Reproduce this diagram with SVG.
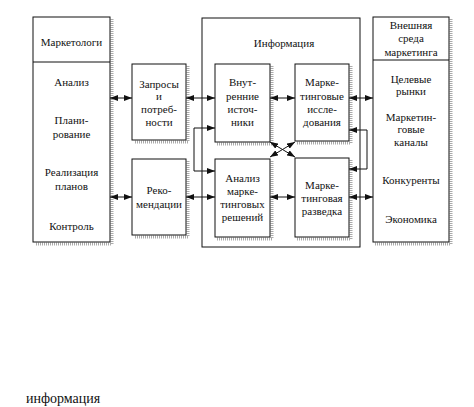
<svg xmlns="http://www.w3.org/2000/svg" width="474" height="407" viewBox="0 0 474 407">
<style>
.box{fill:#fff;stroke:#111;stroke-width:1}
.sh{fill:none;stroke:#aaa;stroke-width:3;stroke-dasharray:1 1}
.t{font-family:"Liberation Serif","Times New Roman",serif;font-size:11px;fill:#111;text-anchor:middle}
.c{fill:none;stroke:#111;stroke-width:1}
</style>
<defs>
<marker id="ah" markerWidth="8" markerHeight="6" refX="8" refY="3" orient="auto-start-reverse" markerUnits="userSpaceOnUse">
<path d="M0,0 L8,3 L0,6 z" fill="#111"/>
</marker>
</defs>
<rect width="474" height="407" fill="#fff"/>

<g id="info">
<rect class="box" x="202" y="18" width="158" height="229"/>
<text class="t" x="284" y="47">Информация</text>
</g>

<g id="marketers">
<path class="sh" d="M112,19 V244 H35"/>
<rect class="box" x="33" y="17" width="77" height="225"/>
<line class="c" x1="33" y1="62" x2="110" y2="62"/>
<text class="t" x="71.5" y="46">Маркетологи</text>
<text class="t" x="71.5" y="86">Анализ</text>
<text class="t" x="71.5" y="124">Плани-</text>
<text class="t" x="71.5" y="138">рование</text>
<text class="t" x="71.5" y="176">Реализация</text>
<text class="t" x="71.5" y="190">планов</text>
<text class="t" x="71.5" y="230">Контроль</text>
</g>

<g id="requests">
<path class="sh" d="M188,66 V142 H134"/>
<rect class="box" x="132" y="64" width="54" height="76"/>
<text class="t" x="159" y="88">Запросы</text>
<text class="t" x="159" y="100">и</text>
<text class="t" x="159" y="113">потреб-</text>
<text class="t" x="159" y="126">ности</text>
</g>

<g id="recommendations">
<path class="sh" d="M188,161 V237 H134"/>
<rect class="box" x="132" y="159" width="54" height="76"/>
<text class="t" x="159" y="194">Реко-</text>
<text class="t" x="159" y="208">мендации</text>
</g>

<g id="internal">
<path class="sh" d="M272,66 V144 H217"/>
<rect class="box" x="215" y="64" width="55" height="78"/>
<text class="t" x="242.5" y="86">Внут-</text>
<text class="t" x="242.5" y="100">ренние</text>
<text class="t" x="242.5" y="113">источ-</text>
<text class="t" x="242.5" y="126">ники</text>
</g>

<g id="research">
<path class="sh" d="M351,66 V143 H297"/>
<rect class="box" x="295" y="64" width="54" height="77"/>
<text class="t" x="322" y="86">Марке-</text>
<text class="t" x="322" y="100">тинговые</text>
<text class="t" x="322" y="113">иссле-</text>
<text class="t" x="322" y="126">дования</text>
</g>

<g id="analysis">
<path class="sh" d="M272,161 V239 H217"/>
<rect class="box" x="215" y="159" width="55" height="78"/>
<text class="t" x="242.5" y="182">Анализ</text>
<text class="t" x="242.5" y="195">марке-</text>
<text class="t" x="242.5" y="208">тинговых</text>
<text class="t" x="242.5" y="221">решений</text>
</g>

<g id="intelligence">
<path class="sh" d="M351,160 V239 H297"/>
<rect class="box" x="295" y="158" width="54" height="79"/>
<text class="t" x="322" y="189">Марке-</text>
<text class="t" x="322" y="202">тинговая</text>
<text class="t" x="322" y="215">разведка</text>
</g>

<g id="environment">
<path class="sh" d="M451,19 V244 H375"/>
<rect class="box" x="373" y="17" width="76" height="225"/>
<line class="c" x1="373" y1="60" x2="449" y2="60"/>
<text class="t" x="411" y="29">Внешняя</text>
<text class="t" x="411" y="42">среда</text>
<text class="t" x="411" y="56">маркетинга</text>
<text class="t" x="411" y="83">Целевые</text>
<text class="t" x="411" y="95">рынки</text>
<text class="t" x="411" y="121">Маркетин-</text>
<text class="t" x="411" y="133">говые</text>
<text class="t" x="411" y="146">каналы</text>
<text class="t" x="411" y="184">Конкуренты</text>
<text class="t" x="411" y="223">Экономика</text>
</g>

<g id="connectors">
<path class="c" d="M110,98 H132" marker-start="url(#ah)" marker-end="url(#ah)"/>
<path class="c" d="M186,98 H215" marker-start="url(#ah)" marker-end="url(#ah)"/>
<path class="c" d="M270,98 H295" marker-start="url(#ah)" marker-end="url(#ah)"/>
<path class="c" d="M349,98 H373" marker-start="url(#ah)" marker-end="url(#ah)"/>
<path class="c" d="M110,197 H132" marker-start="url(#ah)" marker-end="url(#ah)"/>
<path class="c" d="M186,197 H215" marker-start="url(#ah)" marker-end="url(#ah)"/>
<path class="c" d="M270,197 H295" marker-start="url(#ah)" marker-end="url(#ah)"/>
<path class="c" d="M349,197 H373" marker-start="url(#ah)" marker-end="url(#ah)"/>
<path class="c" d="M215,128 H194 V171 H215" marker-start="url(#ah)" marker-end="url(#ah)"/>
<path class="c" d="M349,130 H367 V169 H349" marker-start="url(#ah)" marker-end="url(#ah)"/>
<path class="c" d="M270,157 L295,142" marker-start="url(#ah)" marker-end="url(#ah)"/>
<path class="c" d="M270,142 L295,157" marker-start="url(#ah)" marker-end="url(#ah)"/>
</g>

<text x="26" y="403" style="font-family:'Liberation Serif','Times New Roman',serif;font-size:14px;fill:#111">информация</text>
</svg>
